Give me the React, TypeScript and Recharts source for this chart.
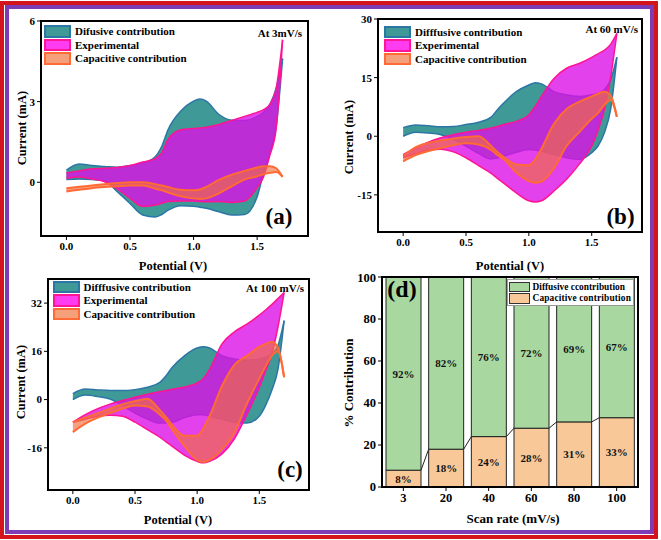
import React from 'react';
import { ComposedChart, Area, XAxis, YAxis, Legend, BarChart, Bar, LabelList } from 'recharts';

const FONT = '"Liberation Serif", "Times New Roman", serif';

// Potential grid (V)
const potential = [0, 0.1, 0.2, 0.3, 0.4, 0.5, 0.6, 0.7, 0.75, 0.8, 0.9, 1.0, 1.05, 1.1, 1.2, 1.3, 1.4, 1.5, 1.55, 1.6, 1.65, 1.7];

// (a) 3 mV/s  (mA)
const aDifU = [0.45, 0.68, 0.62, 0.59, 0.56, 0.62, 0.71, 0.96, 1.34, 1.96, 2.65, 3.02, 3.1, 3.02, 2.52, 2.31, 2.3, 2.45, 2.6, 2.9, 3.5, 4.6];
const aDifL = [0.1, 0.12, 0.1, 0.05, -0.35, -0.79, -1.22, -1.29, -1.2, -1.04, -0.87, -0.89, -0.93, -0.97, -1.1, -1.22, -1.2, -0.54, 0.34, 1.09, 2.09, 4.6];
const aExpU = [0.35, 0.42, 0.5, 0.52, 0.55, 0.62, 0.75, 0.88, 1.1, 1.6, 1.95, 2.0, 2.02, 2.05, 2.15, 2.3, 2.45, 2.6, 2.7, 2.9, 3.5, 5.3];
const aExpL = [0.15, 0.2, 0.12, 0.02, -0.25, -0.6, -0.9, -0.85, -0.78, -0.72, -0.7, -0.7, -0.72, -0.73, -0.72, -0.75, -0.7, -0.2, 0.2, 1.0, 2.0, 5.3];
const aCapU = [-0.22, -0.17, -0.12, -0.07, -0.03, 0.0, 0.0, -0.07, -0.12, -0.18, -0.28, -0.3, -0.27, -0.17, 0.09, 0.28, 0.42, 0.55, 0.6, 0.6, 0.52, 0.2];
const aCapL = [-0.34, -0.28, -0.22, -0.18, -0.15, -0.12, -0.12, -0.24, -0.3, -0.38, -0.52, -0.6, -0.62, -0.6, -0.41, -0.15, 0.1, 0.22, 0.3, 0.35, 0.38, 0.2];

// (b) 60 mV/s
const bDifU = [2.2, 2.9, 2.7, 2.4, 2.5, 3.0, 3.6, 4.9, 6.8, 8.5, 11.4, 13.1, 13.7, 13.4, 11.4, 10.6, 10.2, 10.6, 11.0, 11.9, 14.4, 20.2];
const bDifL = [0.0, 1.0, 0.8, 0.4, -0.8, -2.5, -4.4, -5.8, -5.6, -5.1, -4.1, -3.4, -3.5, -3.8, -4.7, -5.5, -5.9, -4.2, -2.5, 0.8, 6.8, 20.2];
const bExpU = [-4.7, -3.0, -1.5, -0.4, 0.4, 1.0, 1.5, 2.1, 2.5, 3.0, 3.8, 5.5, 7.6, 10.2, 14.8, 17.4, 18.6, 20.2, 21.1, 22.0, 23.5, 26.3];
const bExpL = [-5.5, -4.5, -3.5, -3.3, -4.0, -5.5, -7.5, -9.5, -10.8, -12.0, -14.5, -16.5, -16.8, -16.5, -14.0, -11.0, -7.2, -2.5, 1.5, 6.8, 15.0, 26.3];
const bCapU = [-5.1, -2.8, -1.7, -1.1, -0.6, -0.2, 0.0, -2.5, -4.0, -5.3, -7.2, -7.4, -6.0, -3.2, 3.2, 7.0, 8.8, 10.2, 10.9, 11.4, 10.5, 5.0];
const bCapL = [-6.4, -4.8, -3.8, -3.0, -2.3, -1.8, -2.1, -3.5, -4.8, -5.9, -9.3, -11.5, -11.9, -11.6, -8.2, -2.5, 1.0, 4.5, 5.9, 8.0, 9.3, 5.0];

// (c) 100 mV/s
const cDifU = [2.0, 3.5, 3.2, 3.0, 3.0, 3.3, 4.1, 5.7, 7.9, 10.7, 14.6, 17.1, 17.5, 17.1, 14.6, 13.5, 13.1, 13.5, 14.0, 15.1, 17.9, 26.2];
const cDifL = [0.0, 1.5, 1.0, 0.2, -2.0, -4.5, -6.5, -7.8, -7.8, -7.5, -6.0, -5.0, -5.0, -5.5, -6.5, -7.5, -7.8, -5.5, -2.0, 3.0, 10.0, 26.2];
const cExpU = [-7.5, -5.0, -3.0, -1.5, -0.3, 0.8, 1.8, 2.6, 3.0, 3.4, 4.2, 5.5, 7.0, 10.0, 18.5, 22.5, 25.0, 28.0, 29.7, 31.5, 33.5, 35.5];
const cExpL = [-7.5, -6.5, -5.5, -5.2, -5.5, -7.5, -10.0, -12.5, -14.0, -15.5, -18.5, -20.5, -21.0, -20.5, -18.0, -13.0, -5.0, 4.0, 9.5, 15.0, 24.0, 35.5];
const cCapU = [-7.5, -6.0, -4.5, -3.0, -1.5, -0.5, 0.3, -3.5, -5.8, -8.5, -12.0, -12.0, -9.5, -5.5, 4.5, 11.5, 14.5, 17.5, 18.5, 19.2, 17.3, 7.4];
const cCapL = [-10.8, -8.0, -6.0, -4.5, -3.0, -2.0, -2.3, -5.0, -7.0, -10.0, -15.5, -20.0, -20.7, -20.0, -16.5, -11.0, -1.4, 7.0, 11.0, 14.5, 16.0, 7.4];

// (d) contributions
const scanRates = ['3', '20', '40', '60', '80', '100'];
const capacitivePct = [8, 18, 24, 28, 31, 33];
const diffusivePct = [92, 82, 76, 72, 69, 67];

const xTicks = [0, 0.5, 1.0, 1.5];
const X_DOMAIN: [number, number] = [-0.2, 1.9];

const build = (dU: number[], dL: number[], eU: number[], eL: number[], cU: number[], cL: number[]) =>
  potential.map((x, i) => ({ x, dif: [dL[i], dU[i]], exp: [eL[i], eU[i]], cap: [cL[i], cU[i]] }));

const rowsA = build(aDifU, aDifL, aExpU, aExpL, aCapU, aCapL);
const rowsB = build(bDifU, bDifL, bExpU, bExpL, bCapU, bCapL);
const rowsC = build(cDifU, cDifL, cExpU, cExpL, cCapU, cCapL);
const barRows = scanRates.map((r, i) => ({ rate: r, cap: capacitivePct[i], dif: diffusivePct[i] }));

const TEAL = { fill: '#3f9a97', stroke: '#2c76a6' };
const MAG = { fill: '#dc12e6', stroke: '#ff1493' };
const ORA = { fill: '#f07040', stroke: '#ff6a35' };
const SW = [
  { fill: '#3f9a97', stroke: '#2c76a6' },
  { fill: '#ff3cf0', stroke: '#ff1493' },
  { fill: '#f5a07a', stroke: '#ff6a35' },
];

const tickStyle = { fontSize: 11, fontWeight: 700, fill: '#000', fontFamily: FONT };

const CvLegend = ({ names }: { names: string[] }) => (
  <div style={{ fontFamily: FONT, fontWeight: 700, fontSize: 11, color: '#000' }}>
    {names.map((n, i) => (
      <div key={n} style={{ display: 'flex', alignItems: 'center', height: 13.6 }}>
        <div style={{ flexShrink: 0, width: 27, height: 12.6, boxSizing: 'border-box', background: SW[i].fill, border: `2px solid ${SW[i].stroke}` }} />
        <span style={{ marginLeft: 4, whiteSpace: 'nowrap' }}>{n}</span>
      </div>
    ))}
  </div>
);

type CvProps = {
  rows: any[]; margin: any; yWidth: number; xHeight: number; yDomain: [number, number]; yTicks: number[];
  names: string[]; legendLeft: number; legendTop: number;
};

const CvChart = ({ rows, margin, yWidth, xHeight, yDomain, yTicks, names, legendLeft, legendTop }: CvProps) => (
  <ComposedChart width={330} height={270} data={rows} margin={margin}>
    <XAxis dataKey="x" type="number" domain={X_DOMAIN} ticks={xTicks} allowDataOverflow height={xHeight}
      tickFormatter={(v: number) => v.toFixed(1)} tick={tickStyle} tickSize={4} stroke="#000" />
    <YAxis type="number" domain={yDomain} ticks={yTicks} allowDataOverflow width={yWidth} tick={tickStyle} tickSize={4} stroke="#000" />
    <Area dataKey="dif" name={names[0]} type="monotone" fill={TEAL.fill} fillOpacity={1} stroke={TEAL.stroke} strokeWidth={1.5} isAnimationActive={false} dot={false} activeDot={false} />
    <Area dataKey="exp" name={names[1]} type="monotone" fill={MAG.fill} fillOpacity={0.8} stroke={MAG.stroke} strokeWidth={1.5} isAnimationActive={false} dot={false} activeDot={false} />
    <Area dataKey="cap" name={names[2]} type="monotone" fill={ORA.fill} fillOpacity={0.65} stroke={ORA.stroke} strokeWidth={2} isAnimationActive={false} dot={false} activeDot={false} />
    <Legend layout="vertical" align="center" verticalAlign="middle" wrapperStyle={{ left: legendLeft, top: legendTop, width: 'auto' }}
      content={() => <CvLegend names={names} />} />
  </ComposedChart>
);

const PLOT_W_D = 256;

const CapShape = (props: any) => {
  const { x, y, width, height, index, fill } = props;
  const cur = capacitivePct[index];
  const next = capacitivePct[index + 1];
  const per = height / cur;
  const base = y + height;
  const band = PLOT_W_D / scanRates.length;
  return (
    <g>
      <rect x={x} y={y} width={width} height={height} fill={fill} stroke="#222" strokeWidth={1} />
      {next !== undefined && (
        <line x1={x + width} y1={y} x2={x + band} y2={base - next * per} stroke="#222" strokeWidth={1} />
      )}
    </g>
  );
};

const BarLegend = () => (
  <div style={{ fontFamily: FONT, fontWeight: 700, fontSize: 9.4, color: '#000', background: '#fff', border: '1px solid #999', padding: '1px 2px 1px 1px', width: 127, boxSizing: 'border-box' }}>
    {[['Diffusive ccontribution', '#a8d8a0', 0], ['Capacitive contribution', '#f8c898', 0.15]].map(([n, c, ls]: any) => (
      <div key={n} style={{ display: 'flex', alignItems: 'center', height: 11.5 }}>
        <div style={{ flexShrink: 0, width: 21, height: 10.5, boxSizing: 'border-box', background: c, border: '1px solid #333' }} />
        <span style={{ marginLeft: 3, whiteSpace: 'nowrap', letterSpacing: ls }}>{n}</span>
      </div>
    ))}
  </div>
);

const T = ({ x, y, size, children, anchor = 'middle', rotate = 0 }: any) => (
  <div style={{
    position: 'absolute', left: x, top: y,
    transform: `translate(${anchor === 'middle' ? '-50%' : anchor === 'end' ? '-100%' : '0'}, -50%) rotate(${rotate}deg)`,
    fontFamily: FONT, fontWeight: 700, fontSize: size, whiteSpace: 'nowrap', lineHeight: 1, color: '#000', zIndex: 5,
  }}>{children}</div>
);

// plot boxes (frames), in page pixels
const frames = [
  { x: 41, y: 21, w: 267, h: 215 },
  { x: 378, y: 19, w: 264, h: 213 },
  { x: 48, y: 279, w: 261, h: 211 },
  { x: 382, y: 277, w: 256, h: 210 },
];

const pos = (left: number, top: number): React.CSSProperties => ({ position: 'absolute', left, top });

export default function App() {
  return (
    <div style={{ position: 'absolute', left: 0, top: 0, width: 661, height: 540, background: '#fff', fontFamily: FONT }}>
      <div style={{ position: 'absolute', left: 0, top: 1, width: 658, height: 538, border: '4px solid #d4141c', boxSizing: 'border-box' }} />
      <div style={{ position: 'absolute', left: 5, top: 5, width: 649, height: 529, border: '4px solid #7d3cb5', boxSizing: 'border-box' }} />

      <div style={pos(0, 0)}>
        <CvChart rows={rowsA} margin={{ top: 21, right: 22, left: 0, bottom: 0 }} yWidth={41} xHeight={34}
          yDomain={[-2, 6]} yTicks={[0, 3, 6]} names={['Difusive contribution', 'Experimental', 'Capacitive contribution']}
          legendLeft={44} legendTop={24.5} />
      </div>
      <div style={pos(330, 0)}>
        <CvChart rows={rowsB} margin={{ top: 19, right: 18, left: 0, bottom: 0 }} yWidth={48} xHeight={38}
          yDomain={[-24.5, 30]} yTicks={[-15, 0, 15, 30]} names={['Difffusive contribution', 'Experimental', 'Capacitive contribution']}
          legendLeft={54} legendTop={25} />
      </div>
      <div style={pos(0, 270)}>
        <CvChart rows={rowsC} margin={{ top: 9, right: 21, left: 0, bottom: 0 }} yWidth={48} xHeight={50}
          yDomain={[-30, 40]} yTicks={[-16, 0, 16, 32]} names={['Difffusive contribution', 'Experimental', 'Capacitive contribution']}
          legendLeft={52.5} legendTop={10} />
      </div>
      <div style={pos(330, 270)}>
        <BarChart width={330} height={270} data={barRows} margin={{ top: 7, right: 22, left: 0, bottom: 0 }} barSize={35}>
          <XAxis dataKey="rate" height={53} tick={{ ...tickStyle, fontSize: 12.5 }} tickSize={4} stroke="#000" />
          <YAxis type="number" domain={[0, 100]} ticks={[0, 20, 40, 60, 80, 100]} width={52} tick={{ ...tickStyle, fontSize: 12.5 }} tickSize={4} stroke="#000" />
          <Bar dataKey="cap" stackId="s" fill="#f8c898" shape={CapShape} isAnimationActive={false}>
            <LabelList dataKey="cap" position="center" formatter={(v: any) => `${v}%`} style={{ fontFamily: FONT, fontWeight: 700, fontSize: 11, fill: '#111' }} />
          </Bar>
          <Bar dataKey="dif" stackId="s" fill="#a8d8a0" stroke="#222" strokeWidth={1} isAnimationActive={false}>
            <LabelList dataKey="dif" position="center" formatter={(v: any) => `${v}%`} style={{ fontFamily: FONT, fontWeight: 700, fontSize: 11, fill: '#111' }} />
          </Bar>
          <Legend layout="vertical" align="center" verticalAlign="middle" wrapperStyle={{ left: 176.5, top: 9, width: 'auto' }}
            content={() => <BarLegend />} />
        </BarChart>
      </div>

      <svg width={661} height={540} style={{ position: 'absolute', left: 0, top: 0, zIndex: 20, pointerEvents: 'none' }}>
        {frames.map((f, i) => (
          <rect key={i} x={f.x} y={f.y} width={f.w} height={f.h} fill="none" stroke="#000000" strokeWidth={2} />
        ))}
      </svg>

      <T x={21.7} y={128} size={12.5} rotate={-90}>Current (mA)</T>
      <T x={173} y={266} size={12.5}>Potential (V)</T>
      <T x={302} y={33} size={11} anchor="end">At 3mV/s</T>
      <T x={279} y={216} size={23}>(a)</T>

      <T x={349.3} y={137} size={12.5} rotate={-90}>Current (mA)</T>
      <T x={510} y={266} size={12.5}>Potential (V)</T>
      <T x={638} y={28.5} size={11} anchor="end">At 60 mV/s</T>
      <T x={620.5} y={216} size={23}>(b)</T>

      <T x={20.7} y={382} size={12.5} rotate={-90}>Current (mA)</T>
      <T x={178} y={520} size={12.5}>Potential (V)</T>
      <T x={304} y={287.5} size={11} anchor="end">At 100 mV/s</T>
      <T x={290} y={469} size={23}>(c)</T>

      <T x={348} y={383} size={13} rotate={-90}>% Contribution</T>
      <T x={513} y={518} size={13}>Scan rate (mV/s)</T>
      <T x={402} y={289} size={24}>(d)</T>
    </div>
  );
}
